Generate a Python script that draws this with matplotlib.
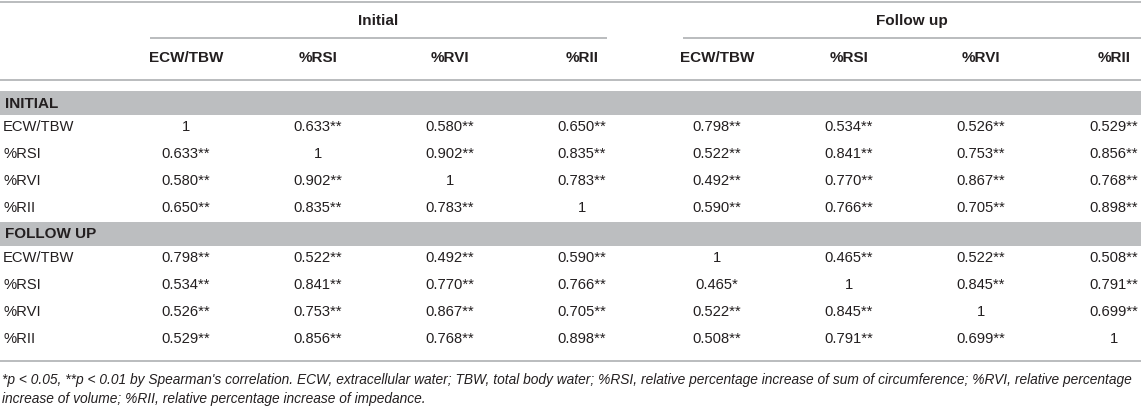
import matplotlib
matplotlib.use("Agg")
import matplotlib.pyplot as plt
from matplotlib.patches import Rectangle

plt.rcParams['font.family'] = ['Liberation Sans', 'DejaVu Sans']

# table content
periods = ["Initial", "Follow up"]
sections = ["INITIAL", "FOLLOW UP"]
variables = ["ECW/TBW", "%RSI", "%RVI", "%RII"]

# rows = variable at that time point, columns = Initial x4 then Follow up x4
initial_rows = [
    [1, 0.633, 0.580, 0.650, 0.798, 0.534, 0.526, 0.529],
    [0.633, 1, 0.902, 0.835, 0.522, 0.841, 0.753, 0.856],
    [0.580, 0.902, 1, 0.783, 0.492, 0.770, 0.867, 0.768],
    [0.650, 0.835, 0.783, 1, 0.590, 0.766, 0.705, 0.898],
]
followup_rows = [
    [0.798, 0.522, 0.492, 0.590, 1, 0.465, 0.522, 0.508],
    [0.534, 0.841, 0.770, 0.766, 0.465, 1, 0.845, 0.791],
    [0.526, 0.753, 0.867, 0.705, 0.522, 0.845, 1, 0.699],
    [0.529, 0.856, 0.768, 0.898, 0.508, 0.791, 0.699, 1],
]
# cells only significant at p < 0.05 (section, row, col); the rest get **
single_star = [(1, 1, 4)]

footnote = [
    "*p < 0.05, **p < 0.01 by Spearman's correlation. ECW, extracellular water; TBW, total body water; "
    "%RSI, relative percentage increase of sum of circumference; %RVI, relative percentage",
    "increase of volume; %RII, relative percentage increase of impedance.",
]

# styling / layout (pixels)
W, H = 1141, 408
text_col = "#231f20"
line_col = "#a7a9ac"
band_col = "#bcbec0"
fs = 10.6
fs_head = 11

col_x = [186, 318, 450, 582, 717, 849, 981, 1114]
group_lines = [(150, 607), (683, 1141)]
row_h = 27
band_h = 24

fig = plt.figure(figsize=(W / 100, H / 100), dpi=100)
ax = fig.add_axes([0, 0, 1, 1])
ax.set_xlim(0, W)
ax.set_ylim(H, 0)
ax.axis("off")


def hline(y, x0=0, x1=W):
    ax.plot([x0, x1], [y, y], color=line_col, lw=1.1, solid_capstyle="butt")


hline(2)
for (x0, x1), name in zip(group_lines, periods):
    ax.text((x0 + x1) / 2, 21, name, ha="center", va="center", fontsize=fs_head,
            fontweight="bold", color=text_col)
    hline(38, x0, x1)

for i, name in enumerate(variables * 2):
    ax.text(col_x[i], 58, name, ha="center", va="center", fontsize=fs_head,
            fontweight="bold", color=text_col)
hline(79.5)

y = 91
for s, (section, rows) in enumerate(zip(sections, [initial_rows, followup_rows])):
    ax.add_patch(Rectangle((0, y), W, band_h, color=band_col, lw=0))
    ax.text(5, y + band_h / 2 + 0.5, section, ha="left", va="center", fontsize=fs_head,
            fontweight="bold", color=text_col)
    y += band_h + 12
    for r, vals in enumerate(rows):
        ax.text(3, y, variables[r], ha="left", va="center", fontsize=fs, color=text_col)
        for c, v in enumerate(vals):
            if v == 1:
                label = "1"
            else:
                stars = "*" if (s, r, c) in single_star else "**"
                label = f"{v:.3f}{stars}"
            ax.text(col_x[c], y, label, ha="center", va="center", fontsize=fs,
                    color=text_col)
        y += row_h
    y -= 13

hline(361)
ax.text(2, 380, footnote[0], ha="left", va="center", fontsize=9.9,
        style="italic", color=text_col)
ax.text(2, 399, footnote[1], ha="left", va="center", fontsize=9.9,
        style="italic", color=text_col)

fig.savefig("out.png", dpi=100)
